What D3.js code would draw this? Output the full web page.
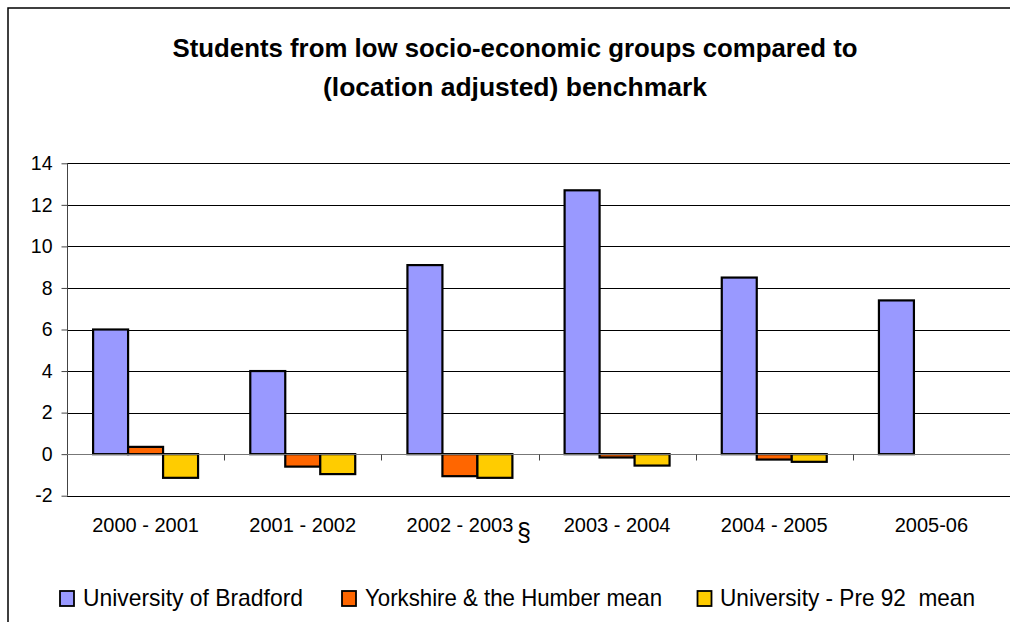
<!DOCTYPE html>
<html>
<head>
<meta charset="utf-8">
<script src="https://cdn.jsdelivr.net/npm/d3@7"></script>
<style>
  html, body { margin: 0; padding: 0; background: #fff; }
  svg { display: block; font-family: "Liberation Sans", Arial, sans-serif; }
</style>
</head>
<body>
<svg id="chart" width="1010" height="622"></svg>
<script>
// Academic years on the category axis
const categories = ["2000 - 2001", "2001 - 2002", "2002 - 2003", "2003 - 2004", "2004 - 2005", "2005-06"];

// Series names, in legend order
const seriesNames = ["University of Bradford", "Yorkshire & the Humber mean", "University - Pre 92  mean"];

// Difference from the location-adjusted benchmark (percentage points)
const bradford  = [6.0, 4.0, 9.1, 12.7, 8.5, 7.4];
const yorkshire = [0.35, -0.6, -1.06, -0.16, -0.26, null];
const pre92     = [-1.14, -0.96, -1.14, -0.55, -0.37, null];

// Value axis ticks
const yTicks = [-2, 0, 2, 4, 6, 8, 10, 12, 14];

const seriesColors = ["#9999FF", "#FF6600", "#FFCC00"];
const seriesValues = [bradford, yorkshire, pre92];

const svg = d3.select("#chart");

// Outer chart frame
svg.append("rect")
  .attr("x", 8).attr("y", 8)
  .attr("width", 1100).attr("height", 700)
  .attr("fill", "#fff")
  .attr("stroke", "#000")
  .attr("stroke-width", 1.5);

// Title
const title = svg.append("g").attr("font-weight", "bold").attr("font-size", 26).attr("text-anchor", "middle");
title.append("text").attr("x", 515).attr("y", 57)
  .attr("textLength", 685).attr("lengthAdjust", "spacingAndGlyphs")
  .text("Students from low socio-economic groups compared to");
title.append("text").attr("x", 515).attr("y", 96)
  .attr("textLength", 384).attr("lengthAdjust", "spacingAndGlyphs")
  .text("(location adjusted) benchmark");

// Scales
const plotLeft = 67, plotRight = 1010;
const x0 = d3.scaleBand().domain(categories).range([plotLeft, plotRight]).padding(0);
const x1 = d3.scaleBand().domain(seriesNames).range([0, x0.bandwidth()])
  .paddingInner(0).paddingOuter(0.746);
const y = d3.scaleLinear().domain([-2, 14]).range([495.7, 163.3]);

// Horizontal gridlines
svg.append("g")
  .selectAll("line")
  .data(yTicks.filter(t => t !== 0))
  .join("line")
  .attr("x1", plotLeft).attr("x2", plotRight)
  .attr("y1", d => Math.round(y(d)) + 0.5).attr("y2", d => Math.round(y(d)) + 0.5)
  .attr("stroke", "#000").attr("stroke-width", 1);

// Value axis (plain hyphen for negatives)
const yAxis = d3.axisLeft(y).tickValues(yTicks).tickSize(6).tickPadding(9).tickFormat(d => String(d));
const yG = svg.append("g").attr("transform", `translate(${plotLeft + 0.5},0)`).call(yAxis);
yG.select(".domain").attr("stroke", "#444").attr("d", `M0,${y(14)}V${y(-2)}`);
yG.selectAll(".tick line").attr("stroke", "#444");
yG.selectAll(".tick text").attr("font-size", 19.5).attr("fill", "#000")
  .attr("font-family", "'Liberation Sans', Arial, sans-serif");

// Bars
const groups = svg.append("g").selectAll("g")
  .data(categories)
  .join("g")
  .attr("transform", d => `translate(${x0(d)},0)`);

groups.selectAll("rect")
  .data((c, i) => seriesNames.map((s, k) => ({ s, k, v: seriesValues[k][i] })).filter(d => d.v !== null))
  .join("rect")
  .attr("x", d => x1(d.s))
  .attr("width", x1.bandwidth())
  .attr("y", d => y(Math.max(0, d.v)))
  .attr("height", d => Math.abs(y(d.v) - y(0)))
  .attr("fill", d => seriesColors[d.k])
  .attr("stroke", "#000")
  .attr("stroke-width", 2.2);

// Category axis along the zero line
const zeroY = Math.round(y(0)) + 0.5;
const xG = svg.append("g");
xG.append("line")
  .attr("x1", plotLeft).attr("x2", plotRight)
  .attr("y1", zeroY).attr("y2", zeroY)
  .attr("stroke", "#777").attr("stroke-width", 1);
const boundaries = categories.map(c => x0(c)).concat([plotRight]);
xG.selectAll("line.tick")
  .data(boundaries.slice(1, -1))
  .join("line")
  .attr("class", "tick")
  .attr("x1", d => Math.round(d) + 0.5).attr("x2", d => Math.round(d) + 0.5)
  .attr("y1", zeroY).attr("y2", zeroY + 6)
  .attr("stroke", "#444");

// Category labels below the plot
svg.append("g").selectAll("text")
  .data(categories)
  .join("text")
  .attr("x", d => x0(d) + x0.bandwidth() / 2)
  .attr("y", 532)
  .attr("text-anchor", "middle")
  .attr("font-size", 20)
  .text(d => d);

// Footnote marker on the 2002 - 2003 label
svg.append("text")
  .attr("x", x0("2002 - 2003") + x0.bandwidth() / 2 + 64)
  .attr("y", 541)
  .attr("text-anchor", "middle")
  .attr("font-size", 25)
  .text("§");

// Legend
const legendItems = [
  { sx: 60, tx: 83, w: 220 },
  { sx: 342, tx: 365, w: 297 },
  { sx: 697.5, tx: 720, w: 255 }
];
const legend = svg.append("g");
const li = legend.selectAll("g")
  .data(seriesNames)
  .join("g");
li.append("rect")
  .attr("x", (d, i) => legendItems[i].sx)
  .attr("y", 591)
  .attr("width", 14).attr("height", 15)
  .attr("fill", (d, i) => seriesColors[i])
  .attr("stroke", "#000").attr("stroke-width", 1.8);
li.append("text")
  .attr("x", (d, i) => legendItems[i].tx)
  .attr("y", 606)
  .attr("font-size", 24)
  .attr("textLength", (d, i) => legendItems[i].w)
  .attr("lengthAdjust", "spacingAndGlyphs")
  .style("white-space", "pre")
  .text(d => d);
</script>
</body>
</html>
